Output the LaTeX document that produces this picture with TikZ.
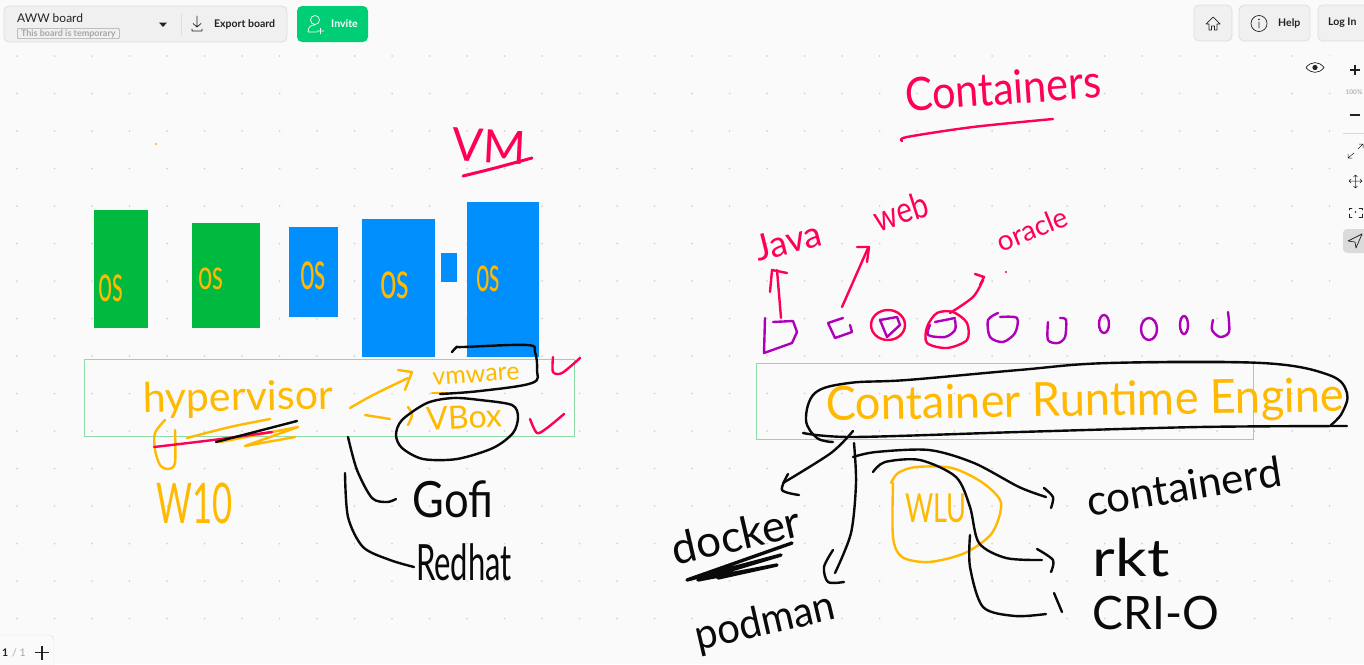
\documentclass[tikz,border=0pt]{standalone}
\usepackage{fontspec}
\setmainfont{Lato}
\newfontfamily\handfont{Lato}
\usetikzlibrary{arrows.meta}

\definecolor{boardbg}{HTML}{FAFAFA}
\definecolor{griddot}{HTML}{D4D4D4}
\definecolor{uifill}{HTML}{F0F0F0}
\definecolor{uiline}{HTML}{DEDEDE}
\definecolor{uitext}{HTML}{222222}
\definecolor{invitegreen}{HTML}{00CE75}
\definecolor{osgreen}{HTML}{00B93F}
\definecolor{osblue}{HTML}{008FFD}
\definecolor{framegreen}{HTML}{8ED9A8}
\definecolor{inkred}{HTML}{FF0055}
\definecolor{inkyellow}{HTML}{FFB900}
\definecolor{inkpurple}{HTML}{AE00B8}
\definecolor{inkblack}{HTML}{0A0A0A}

\tikzset{
    redink/.style={draw=inkred, line width=2.4pt, line cap=round, line join=round},
    yellowink/.style={draw=inkyellow, line width=2.4pt, line cap=round, line join=round},
    purpleink/.style={draw=inkpurple, line width=2.4pt, line cap=round, line join=round},
    blackink/.style={draw=inkblack, line width=2.4pt, line cap=round, line join=round},
    uibox/.style={draw=uiline, fill=uifill, line width=0.8pt, rounded corners=5pt},
    uiicon/.style={draw=uitext, line width=0.7pt, line cap=round, line join=round},
    hand/.style={inner sep=0pt, outer sep=0pt},
    hand red/.style={hand, text=inkred},
    hand yellow/.style={hand, text=inkyellow},
    hand black/.style={hand, text=inkblack},
    uilabel/.style={inner sep=0pt, text=uitext, font=\fontsize{10.5}{12}\selectfont\bfseries},
}
\newcommand{\handsize}[1]{\handfont\fontsize{#1}{#1}\selectfont}

\begin{document}
\begin{tikzpicture}[x=1pt, y=-1pt]
    \useasboundingbox (0,0) rectangle (1364,664);
    \fill[boardbg] (0,0) rectangle (1364,664);

    % Grid dots
    \foreach \gx in {0,...,35}
        \foreach \gy in {0,...,15}
            \fill[griddot] ({17+37.5*\gx},{56+37.5*\gy}) circle (1pt);

    % Top bar, left
    \draw[uibox] (4,6) rectangle (287,42);
    \node[inner sep=0pt, anchor=west, text=uitext, font=\fontsize{12}{14}\selectfont] (boardname) at (17,18) {AWW board};
    \node[draw=black!35, line width=0.6pt, rounded corners=1pt, inner sep=1pt, anchor=west, text=black!35,
        minimum width=102pt, font=\fontsize{9}{10}\selectfont\bfseries] (boardnote) at (17,33.5) {This board is temporary};
    \fill[uitext] (159,22.5) -- (167,22.5) -- (163,27) -- cycle;
    \draw[uiline] (181,14) -- (181,35);
    \draw[uiicon] (197,16) -- (197,27) (193,23.5) -- (197,27) -- (201,23.5) (192,29) -- (192,31) -- (202,31) -- (202,29);
    \node[uilabel, anchor=west] (exportlabel) at (214,24) {Export board};
    \draw[draw=none, fill=invitegreen, rounded corners=5pt] (297,6) rectangle (368,42);
    \draw[white, line width=0.7pt] (315,20) circle (4.5pt) (308,32) .. controls (308,26) and (312,25) .. (315,25) (317,31) -- (324,31) (320.5,28) -- (320.5,34) (308,32) -- (317,32);
    \node[uilabel, anchor=west, text=white] (invitelabel) at (331,24) {Invite};

    % Top bar, right
    \draw[uibox] (1194,5) rectangle (1232,41);
    \draw[uiicon] (1206,24) -- (1213,17) -- (1220,24) -- (1217,24) -- (1217,30) -- (1214.5,30) -- (1214.5,26) -- (1211.5,26) -- (1211.5,30) -- (1209,30) -- (1209,24) -- cycle;
    \draw[uibox] (1239,5) rectangle (1310,41);
    \draw[uiicon] (1259,23.5) circle (8pt) (1259,22) -- (1259,28);
    \fill[uitext] (1259,19.5) circle (0.8pt);
    \node[uilabel, anchor=west] (helplabel) at (1278,23) {Help};
    \draw[uibox] (1318,5) rectangle (1372,41);
    \node[uilabel, anchor=west] (loginlabel) at (1328,23) {Log In};

    % Right tools
    \fill[black!2, rounded corners=5pt] (1300,52) rectangle (1330,82);
    \fill[black!2, rounded corners=5pt] (1337,52) rectangle (1372,258);
    \draw[uiicon] (1306,67.5) .. controls (1311,61) and (1319,61) .. (1324,67.5) .. controls (1319,74) and (1311,74) .. (1306,67.5);
    \fill[uitext] (1315,67.5) circle (2.6pt);
    \draw[uitext, line width=1.2pt] (1350,70) -- (1360,70) (1355,65) -- (1355,75) (1350,115) -- (1360,115);
    \node[inner sep=0pt, text=black!30, font=\fontsize{6.5}{8}\selectfont\bfseries] (zoomlabel) at (1354,92) {100\%};
    \draw[black!15, line width=0.6pt] (1343,133) -- (1364,133);
    \draw[uiicon, line width=0.5pt] (1348,158) -- (1354,153) (1358,149) -- (1363,144) (1359,144) -- (1363,144) -- (1363,148) (1348,154) -- (1348,158) -- (1352,158);
    \draw[uiicon, line width=0.5pt] (1349,181) -- (1362,181) (1355.5,175) -- (1355.5,188) (1351,179) -- (1349,181) -- (1351,183) (1360,179) -- (1362,181) -- (1360,183) (1353.5,177) -- (1355.5,175) -- (1357.5,177) (1353.5,186) -- (1355.5,188) -- (1357.5,186);
    \draw[uiicon, line width=0.5pt] (1349,210) -- (1349,208) -- (1352,208) (1359,208) -- (1362,208) -- (1362,210) (1349,214) -- (1349,217) -- (1352,217) (1359,217) -- (1362,217) -- (1362,214);
    \fill[uitext] (1355.5,212) circle (0.8pt);
    \fill[black!14, rounded corners=4pt] (1343,229) rectangle (1372,253);
    \draw[uiicon] (1348,241) -- (1362,234) -- (1356,248) -- (1355,242) -- cycle;

    % Page counter
    \draw[uiline, fill=boardbg, rounded corners=5pt] (-5,635) -- (54,635) -- (54,670) -- (-5,670) -- cycle;
    \node[inner sep=0pt, anchor=west, text=uitext, font=\fontsize{10.5}{12}\selectfont\bfseries] (pagenum) at (2,652.5) {1};
    \node[inner sep=0pt, anchor=west, text=black!35, font=\fontsize{10.5}{12}\selectfont] (pagetotal) at (12,652.5) {/ 1};
    \draw[uitext, line width=1.2pt] (35,652.5) -- (49,652.5) (42,645.5) -- (42,659.5);

    % Frames
    \draw[framegreen, line width=1pt] (84,359) rectangle (574,436);
    \draw[framegreen, line width=1pt] (756,363) rectangle (1253,439);

    % Operating system boxes
    \fill[osgreen] (94,210) rectangle (147.5,328);
    \fill[osgreen] (192,223) rectangle (260,328);
    \fill[osblue] (289,227) rectangle (338,317);
    \fill[osblue] (362,219) rectangle (435,357);
    \fill[osblue] (441,253) rectangle (457,282);
    \fill[osblue] (467,202) rectangle (539,357);
    \node[hand yellow, font=\handsize{52}, xscale=0.48] (osa) at (111,288) {os};
    \node[hand yellow, font=\handsize{42}, xscale=0.6] (osb) at (211,279) {os};
    \node[hand yellow, font=\handsize{54}, xscale=0.48] (osc) at (313,276) {os};
    \node[hand yellow, font=\handsize{52}, xscale=0.56] (osd) at (395,285) {os};
    \node[hand yellow, font=\handsize{50}, xscale=0.48] (ose) at (488,279) {os};
    \fill[inkyellow] (156,144) circle (1.2pt);

    % VM title
    \node[hand red, font=\handsize{46}, rotate=-3] (vmtitle) at (489,146) {VM};
    \draw[redink, line width=3pt] plot[smooth] coordinates {(463,176) (495,168) (532,158)};

    % Hypervisor row
    \node[hand yellow, font=\handsize{41}, rotate=1] (hypervisor) at (238,399) {hypervisor};
    \draw[yellowink] plot[smooth] coordinates {(165,420) (155,433) (155,450) (160,465) (168,469) (175,463) (175,430)};
    \draw[yellowink] plot[smooth] coordinates {(187,438) (230,427) (270,419)};
    \draw[yellowink] (220,442) -- (298,427) -- (245,446) -- (295,437);
    \draw[redink] plot[smooth] coordinates {(154,447) (213,440) (272,432)};
    \draw[blackink] (216,442) -- (297,421);
    \node[hand yellow, font=\handsize{56}, xscale=0.62] (wten) at (195,503) {W10};

    % Hypervisor arrows
    \draw[yellowink] plot[smooth] coordinates {(350,408) (373,395) (408,378)};
    \draw[yellowink] (398,370) -- (412,372) -- (405,390);
    \draw[yellowink] (365,415) -- (390,419);
    \draw[yellowink] plot[smooth] coordinates {(408,407) (412,415) (408,425)};
    \node[hand yellow, font=\handsize{25}, rotate=4] (vmware) at (476,376) {vmware};
    \draw[yellowink] (432,393) -- (447,393);
    \node[hand yellow, font=\handsize{32}, rotate=3] (vbox) at (464,417) {VBox};

    % Rings around the products
    \draw[blackink] plot[smooth, tension=0.6] coordinates {(452,352) (457,347) (463,347) (527,345) (535,352) (537,370) (532,383) (480,391) (440,394)};
    \draw[blackink] plot[smooth cycle] coordinates {(453,398) (427,403) (402,420) (396,435) (402,448) (423,459) (457,459) (493,448) (513,433) (518,417) (512,405) (480,400)};
    \draw[redink] plot[smooth, tension=0.5] coordinates {(553,357) (553,372) (562,373) (580,358)};
    \draw[redink] plot[smooth, tension=0.5] coordinates {(530,419) (537,433) (547,428) (564,414)};

    % Bare metal products
    \draw[blackink] plot[smooth] coordinates {(348,437) (357,470) (372,498) (387,502) (396,499)};
    \draw[blackink] plot[smooth] coordinates {(345,473) (348,517) (363,547) (390,560) (414,567)};
    \node[hand black, font=\handsize{50}, xscale=0.87] (gofi) at (453,499) {Gofi};
    \node[hand black, font=\handsize{50}, xscale=0.62] (redhat) at (464,562) {Redhat};

    % Containers title
    \node[hand red, font=\handsize{46}, rotate=4, xscale=0.9] (containers) at (1003,88) {Containers};
    \draw[redink] plot[smooth] coordinates {(902,141) (907,137) (973,127) (1053,119)};

    % Workload labels
    \node[hand red, font=\handsize{36}, rotate=14] (java) at (788,241) {Java};
    \node[hand red, font=\handsize{36}, rotate=18, xscale=0.82] (web) at (901,211) {web};
    \node[hand red, font=\handsize{28}, rotate=22] (oracle) at (1032,229) {oracle};
    \draw[redink] (781,318) -- (777,270);
    \draw[redink] (770,292) -- (772,270) -- (787,273);
    \draw[redink] (842,307) -- (868,248);
    \draw[redink] (857,247) -- (869,247) -- (867,262);
    \draw[redink] plot[smooth] coordinates {(950,313) (973,297) (983,280)};
    \draw[redink] (975,274) -- (984,277) -- (980,285);
    \fill[inkred] (1006,272) circle (1.2pt);

    % Containers row
    \draw[purpleink] (765,318) -- (764,353) -- (792,343) -- (797,332) -- (793,321) -- (773,322);
    \draw[purpleink] (828,323) -- (835,338) -- (852,332) -- (850,325) (843,318) -- (828,323);
    \draw[purpleink] (880,320) -- (887,337) -- (900,325) -- (897,317) -- cycle;
    \draw[redink] (888,325) ellipse (17pt and 15pt);
    \draw[purpleink] plot[smooth] coordinates {(930,325) (928,335) (945,337) (955,330) (955,320)};
    \draw[purpleink] (935,322) -- (955,318);
    \draw[redink] plot[smooth cycle] coordinates {(937,313) (927,327) (927,343) (947,348) (967,340) (967,323) (953,312)};
    \draw[purpleink] plot[smooth] coordinates {(998,313) (988,320) (990,337) (1003,342) (1015,333) (1017,318) (1000,317)};
    \draw[purpleink] plot[smooth] coordinates {(1048,322) (1048,340) (1058,343) (1065,337) (1066,320) (1060,318)};
    \draw[purpleink] (1104,324) ellipse (5pt and 9pt);
    \draw[purpleink] (1149,329) ellipse (8pt and 11pt);
    \draw[purpleink] (1184,325) ellipse (4pt and 9pt);
    \draw[purpleink] plot[smooth] coordinates {(1213,320) (1212,330) (1220,337) (1229,332) (1228,312)};

    % Runtime row
    \node[hand yellow, font=\handsize{47}, rotate=1, xscale=0.96] (runtime) at (1085,403) {Container Runtime Engine};
    \draw[blackink] plot[smooth, tension=0.6] coordinates {(833,442) (817,438) (806,420) (815,393) (849,383) (907,380) (1019,370) (1109,363) (1262,363) (1329,375) (1347,393) (1342,413) (1331,425)};
    \draw[blackink] plot[smooth] coordinates {(803,433) (853,437) (1019,432) (1199,427) (1347,426)};

    % Runtime tools
    \draw[blackink] plot[smooth] coordinates {(853,431) (831,453) (783,483)};
    \draw[blackink] plot[smooth, tension=0.5] coordinates {(788,474) (782,490) (799,495)};
    \node[hand black, font=\handsize{44}, rotate=13] (docker) at (736,535) {docker};
    \draw[blackink, line width=3.4pt] (792,543) -- (687,580) -- (781,555) -- (698,580) -- (777,565) -- (718,578);
    \draw[blackink] plot[smooth] coordinates {(854,443) (856,483) (851,533) (835,573)};
    \draw[blackink] plot[smooth] coordinates {(833,550) (824,567) (828,582) (844,582)};
    \node[hand black, font=\handsize{42}, rotate=13, xscale=0.95] (podman) at (765,623) {podman};

    \draw[yellowink] plot[smooth] coordinates {(891,483) (898,473) (916,467) (952,468) (983,483) (1001,503) (992,533) (965,553) (929,562) (902,557) (893,537) (893,483)};
    \node[hand yellow, font=\handsize{40}, xscale=0.68] (wlu) at (936,508) {WLU};

    \draw[blackink] plot[smooth] coordinates {(853,457) (876,452) (929,450) (974,463) (1019,487) (1046,497)};
    \draw[blackink] plot[smooth, tension=0.5] coordinates {(1044,488) (1053,497) (1051,508)};
    \draw[blackink] plot[smooth] coordinates {(873,472) (885,462) (920,460) (956,477) (970,507) (979,543) (1006,558) (1042,560)};
    \draw[blackink] plot[smooth, tension=0.5] coordinates {(1037,549) (1053,560) (1051,572)};
    \draw[blackink] plot[smooth] coordinates {(970,535) (970,567) (983,607) (1015,616) (1046,614)};
    \draw[blackink] (1054,593) -- (1062,612);

    \node[hand black, font=\handsize{42}, rotate=9] (containerd) at (1184,486) {containerd};
    \node[hand black, font=\handsize{52}, xscale=1.2] (rkt) at (1131,558) {rkt};
    \node[hand black, font=\handsize{46}] (crio) at (1156,613) {CRI-O};
\end{tikzpicture}
\end{document}
